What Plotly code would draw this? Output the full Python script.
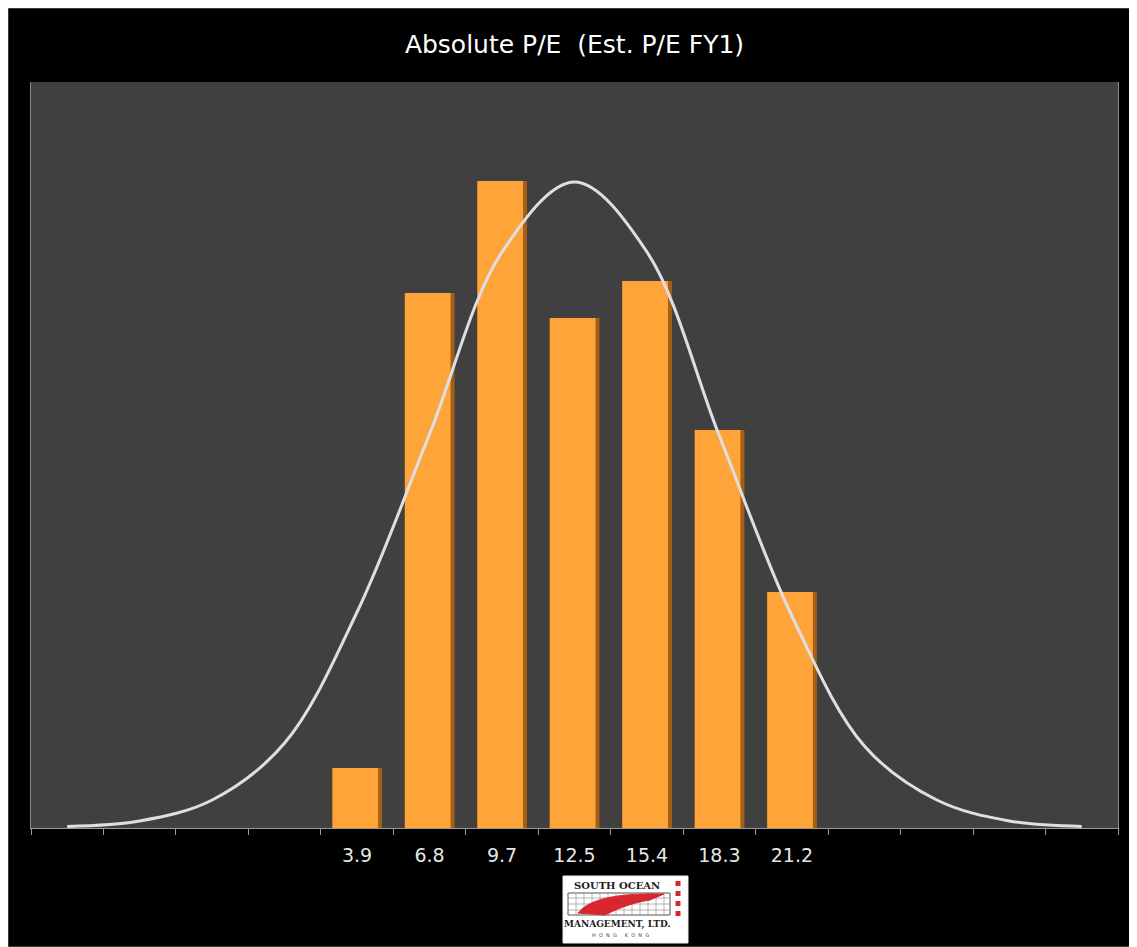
import plotly.graph_objects as go

# categories of the P/E histogram (blank bins only carry the fitted curve)
bin_ids = [f"b{i}" for i in range(1, 16)]
bin_labels = ["", "", "", "", "3.9", "6.8", "9.7", "12.5", "15.4", "18.3", "21.2", "", "", "", ""]

# bar heights (frequency) for the labelled bins
bar_ids = bin_ids[4:11]
bar_values = [3.0, 26.75, 32.35, 25.5, 27.35, 19.9, 11.8]

# fitted normal curve, read at every bin centre
curve_values = [0.08, 0.35, 1.4, 4.25, 10.8, 19.7, 28.8, 32.3, 28.8, 19.6, 10.6, 4.1, 1.4, 0.35, 0.08]

title_text = "Absolute P/E  (Est. P/E FY1)"

W, H = 1129, 939
ML, MR, MT, MB = 23, 19, 74, 119
PW, PH = W - ML - MR, H - MT - MB

fig = go.Figure()

# dark bevel edge of the bars
fig.add_trace(
    go.Bar(
        x=bar_ids,
        y=bar_values,
        width=0.69,
        marker=dict(color="#A35F14", line=dict(width=0)),
        hoverinfo="skip",
    )
)
# bright face of the bars
fig.add_trace(
    go.Bar(
        x=bar_ids,
        y=bar_values,
        width=0.63,
        offset=-0.34,
        marker=dict(color="#FFA438", line=dict(width=0)),
        hoverinfo="y",
    )
)

fig.add_trace(
    go.Scatter(
        x=bin_ids,
        y=curve_values,
        mode="lines",
        line=dict(color="#DCE0E6", width=3, shape="spline", smoothing=1.0),
        hoverinfo="y",
    )
)


def px(x):
    return (x - 8 - ML) / PW


def py(y):
    return (MT + PH - (y - 8)) / PH


# logo under the axis
shapes = [
    # thin grey frame round the slide
    dict(type="rect", xref="paper", yref="paper", x0=px(8), x1=px(1137),
         y0=py(947), y1=py(8), line=dict(color="#777777", width=1)),
    dict(type="rect", xref="paper", yref="paper", x0=px(563), x1=px(688),
         y0=py(943), y1=py(876), fillcolor="white", line=dict(color="#EEEEEE", width=1)),
    dict(type="rect", xref="paper", yref="paper", x0=px(568), x1=px(670),
         y0=py(915), y1=py(893), fillcolor="white", line=dict(color="#555555", width=1)),
]
for gx in range(576, 670, 8):
    shapes.append(dict(type="line", xref="paper", yref="paper", x0=px(gx), x1=px(gx),
                       y0=py(915), y1=py(893), line=dict(color="#888888", width=0.6)))
for gy in [898, 904, 910]:
    shapes.append(dict(type="line", xref="paper", yref="paper", x0=px(568), x1=px(670),
                       y0=py(gy), y1=py(gy), line=dict(color="#888888", width=0.6)))
shapes.append(
    dict(type="path", xref="paper", yref="paper",
         path=(f"M {px(578)} {py(913)} C {px(590)} {py(898)}, {px(620)} {py(893)}, {px(664)} {py(894)} "
               f"L {px(650)} {py(900)} C {px(630)} {py(903)}, {px(615)} {py(910)}, {px(605)} {py(915)} Z"),
         fillcolor="#D8262E", line=dict(color="#D8262E", width=1))
)
shapes.append(dict(type="line", xref="paper", yref="paper", x0=px(678), x1=px(678),
                   y0=py(916), y1=py(880), line=dict(color="#D8262E", width=5, dash="dot")))

annotations = [
    dict(text="<b>SOUTH OCEAN</b>", xref="paper", yref="paper", x=px(617), y=py(885),
         xanchor="center", yanchor="middle", showarrow=False,
         font=dict(family="DejaVu Serif", size=10, color="#222222")),
    dict(text="<b>MANAGEMENT, LTD.</b>", xref="paper", yref="paper", x=px(617), y=py(924),
         xanchor="center", yanchor="middle", showarrow=False,
         font=dict(family="DejaVu Serif", size=9, color="#222222")),
    dict(text="H  O  N  G     K  O  N  G", xref="paper", yref="paper", x=px(620), y=py(935),
         xanchor="center", yanchor="middle", showarrow=False,
         font=dict(family="DejaVu Sans", size=5, color="#444444")),
]

fig.update_layout(
    width=W,
    height=H,
    margin=dict(l=ML, r=MR, t=MT, b=MB),
    paper_bgcolor="black",
    plot_bgcolor="#404040",
    showlegend=False,
    barmode="overlay",
    title=dict(
        text=title_text,
        x=0.5,
        xref="paper",
        y=1 - 36 / H,
        yanchor="middle",
        font=dict(family="DejaVu Sans", size=25, color="white"),
    ),
    xaxis=dict(
        type="category",
        categoryorder="array",
        categoryarray=bin_ids,
        tickvals=bin_ids,
        ticktext=bin_labels,
        tickson="boundaries",
        ticks="outside",
        ticklen=6,
        tickcolor="#9A9A9A",
        showline=True,
        linecolor="#9A9A9A",
        linewidth=1,
        showgrid=False,
        ticklabelstandoff=10,
        tickfont=dict(family="DejaVu Sans", size=19, color="#E6E6E6"),
        range=[-0.5, 14.5],
    ),
    yaxis=dict(
        range=[0, 37.3],
        showgrid=False,
        zeroline=False,
        showticklabels=False,
        showline=True,
        mirror=True,
        linecolor="#8A8A8A",
        linewidth=1,
        ticks="",
    ),
    shapes=shapes,
    annotations=annotations,
)

fig.write_html("out.html")
